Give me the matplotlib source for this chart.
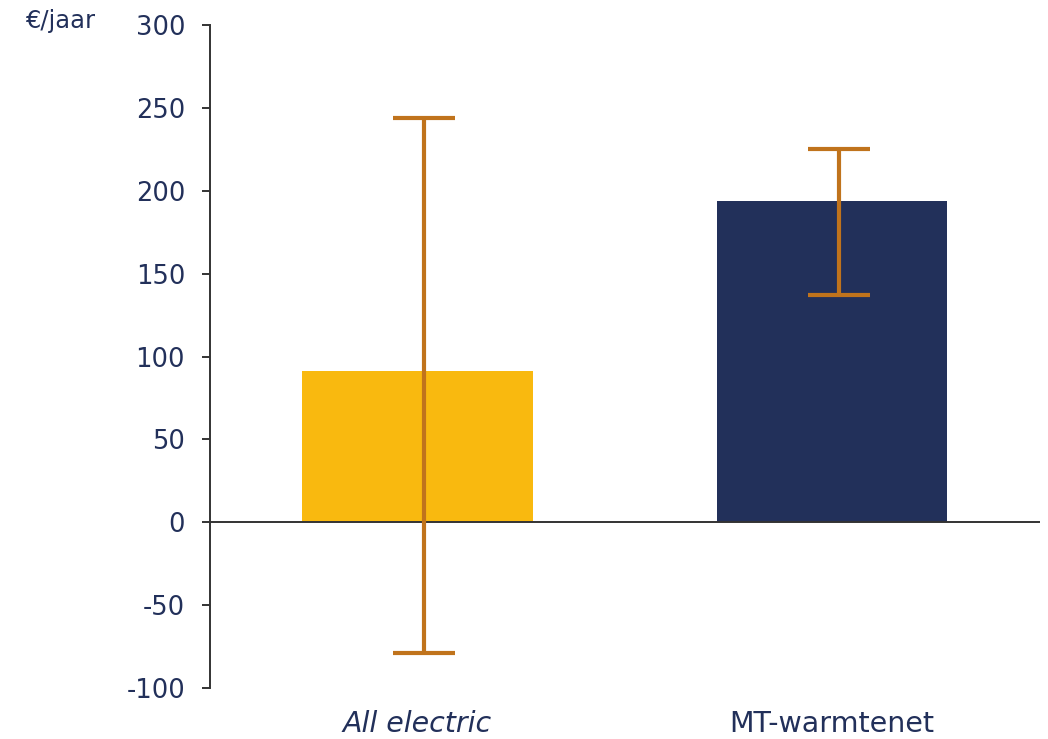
import matplotlib.pyplot as plt
import numpy as np

# Jaarlijkse kosten per optie met onzekerheidsmarge
categories = ['All electric', 'MT-warmtenet']
values = [91, 194]
err_low = [-79, 137]
err_high = [244, 225]
colors = ['#F9B90F', '#22305A']

text_color = '#22305A'
err_color = '#C0731C'

plt.rcParams['font.family'] = ['DejaVu Sans']
plt.rcParams['axes.unicode_minus'] = False


def main():
    fig = plt.figure(figsize=(10.48, 7.39), dpi=100)
    ax = fig.add_axes([0.2004, 0.069, 0.7916, 0.897])

    ind = np.arange(len(categories))
    ax.bar(ind, values, width=0.555, color=colors, zorder=2)

    # error bars sit a little right of the bar centres
    vals = np.array(values)
    yerr = np.array([vals - np.array(err_low), np.array(err_high) - vals])
    ax.errorbar(ind + 0.017, vals, yerr=yerr, fmt='none', ecolor=err_color,
                elinewidth=3, capsize=22.5, capthick=3, zorder=3)

    ax.axhline(0, color='#333333', lw=1.4, zorder=2.5)

    ax.set_xlim(-0.5, 1.5)
    ax.set_ylim(-100, 300)
    ax.set_yticks(np.arange(-100, 301, 50))

    for s in ['top', 'right', 'bottom']:
        ax.spines[s].set_visible(False)
    ax.spines['left'].set_color('#333333')
    ax.spines['left'].set_linewidth(1.4)

    ax.tick_params(axis='y', direction='out', length=6, width=1.4,
                   color='#333333', labelsize=18.5, labelcolor=text_color, pad=12)
    ax.set_xticks(ind)
    ax.set_xticklabels(categories)
    ax.tick_params(axis='x', length=0, labelsize=20.5, labelcolor=text_color, pad=16)
    ax.get_xticklabels()[0].set_style('italic')

    fig.text(25 / 1048, 1 - 21 / 739, '€/jaar', fontsize=17.5, color=text_color,
             ha='left', va='center')

    fig.savefig('out.png', dpi=100)


if __name__ == "__main__":
    main()
